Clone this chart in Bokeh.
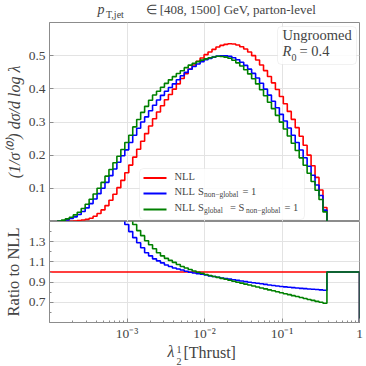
import numpy as np
from bokeh.plotting import figure
from bokeh.layouts import column
from bokeh.models import FixedTicker, Label, BoxAnnotation, Range1d
from bokeh.embed import file_html
from bokeh.resources import INLINE

# ---------------- data ----------------
lam_min, lam_max, lam_end = 1e-4, 0.38, 1.0
n_bins = 70

# NLL distribution (1/sigma0) dsigma/dlog(lambda), per log bin
nll = [0.0, 0.0, 0.0001, 0.0002, 0.0004, 0.0008, 0.0015, 0.0027, 0.0043, 0.0065,
       0.010, 0.016, 0.024, 0.035, 0.048, 0.064, 0.082, 0.102, 0.124, 0.147,
       0.170, 0.194, 0.218, 0.242, 0.265, 0.288, 0.310, 0.330, 0.349, 0.367,
       0.383, 0.399, 0.415, 0.431, 0.446, 0.460, 0.472, 0.483, 0.493, 0.503,
       0.511, 0.519, 0.526, 0.531, 0.534, 0.536, 0.535, 0.532, 0.527, 0.520,
       0.511, 0.500, 0.487, 0.472, 0.455, 0.437, 0.418, 0.398, 0.377, 0.355,
       0.332, 0.308, 0.283, 0.257, 0.230, 0.200, 0.168, 0.133, 0.095, 0.042]

# ratio to NLL: S_non-global = 1
ratio_nonglobal = [10.0, 10.0, 5.0, 10.0, 12.5, 11.25, 9.33, 7.78, 6.98, 6.31,
                   5.4, 4.25, 3.5, 2.86, 2.46, 2.16, 1.93, 1.75, 1.6, 1.47,
                   1.40, 1.34, 1.29, 1.24, 1.19, 1.16, 1.13, 1.11, 1.09, 1.07,
                   1.055, 1.04, 1.03, 1.02, 1.008, 0.998, 0.99, 0.983, 0.977, 0.97,
                   0.962, 0.955, 0.948, 0.941, 0.935, 0.929, 0.923, 0.917, 0.911, 0.905,
                   0.899, 0.893, 0.888, 0.883, 0.877, 0.872, 0.867, 0.862, 0.857, 0.853,
                   0.849, 0.845, 0.841, 0.838, 0.835, 0.832, 0.829, 0.826, 0.823, 0.82]

# ratio to NLL: S_global = S_non-global = 1
ratio_global = [10.0, 10.0, 10.0, 20.0, 20.0, 16.3, 13.3, 10.4, 9.07, 8.0,
                6.7, 5.19, 4.17, 3.37, 2.85, 2.45, 2.16, 1.93, 1.75, 1.62,
                1.53, 1.47, 1.41, 1.36, 1.31, 1.27, 1.23, 1.19, 1.16, 1.135,
                1.115, 1.095, 1.075, 1.055, 1.04, 1.025, 1.01, 0.998, 0.987, 0.975,
                0.966, 0.956, 0.947, 0.937, 0.928, 0.918, 0.909, 0.899, 0.89, 0.88,
                0.871, 0.861, 0.852, 0.842, 0.833, 0.823, 0.814, 0.804, 0.795, 0.785,
                0.776, 0.766, 0.757, 0.747, 0.738, 0.728, 0.719, 0.709, 0.70, 0.69]

x_major = [1e-3, 1e-2, 1e-1, 1.0]
x_labels = ["10\u207b\u00b3", "10\u207b\u00b2", "10\u207b\u00b9", "1"]
top_yticks = [0.1, 0.2, 0.3, 0.4, 0.5]
ratio_yticks = [0.7, 0.9, 1.1, 1.3]
ratio_yminor = [0.6, 0.8, 1.0, 1.2, 1.4]

# ---------------- helpers ----------------
edges = np.geomspace(lam_min, lam_max, n_bins + 1)
edges_r = np.append(edges, lam_end)

nll_a = np.array(nll)
nonglobal_a = nll_a * np.array(ratio_nonglobal)
global_a = nll_a * np.array(ratio_global)


def step_path(e, v, close_left=True, close_right=True):
    xs, ys = [], []
    if close_left:
        xs.append(e[0]); ys.append(0.0)
    for i, val in enumerate(v):
        xs += [e[i], e[i + 1]]
        ys += [val, val]
    if close_right:
        xs.append(e[-1]); ys.append(0.0)
    return xs, ys


def trimmed(e, v):
    nz = np.nonzero(np.array(v) > 0)[0][0]
    return e[nz:], list(v[nz:])

FONT = "Liberation Serif"
RED, BLUE, GREEN = "#ff0000", "#0000ff", "#008000"
SPINE = "#8c8c8c"
GRID = "#e3e3e3"
LW = 1.6

W = 366
LEFT, FRAME_W, RIGHT = 48, 310, 8
TITLE_H, TOP_H, BOT_H, BOT_AX = 22, 199, 101, 18
XLAB_Y0 = TITLE_H + TOP_H + BOT_H + BOT_AX
XLAB_H = W - XLAB_Y0


# pixel -> data helpers for annotations inside the top frame
def fx(px):
    return 10 ** (np.log10(lam_min) + 4.0 * (px - LEFT) / FRAME_W)


def fy(py):
    return 0.6 * (TITLE_H + TOP_H - py) / TOP_H


def strip(y0, height):
    # frame aligned with the panels: data units == page pixels
    s = figure(frame_width=FRAME_W, frame_height=height,
               x_range=Range1d(LEFT, LEFT + FRAME_W), y_range=Range1d(y0 + height, y0),
               x_axis_location=None, y_axis_location=None,
               min_border_left=LEFT, min_border_right=RIGHT, min_border_top=0, min_border_bottom=0,
               output_backend="svg", toolbar_location=None)
    s.outline_line_color = None
    s.grid.visible = False
    return s

# ---------------- title strip ----------------
title = strip(0, TITLE_H)
title.add_layout(Label(x=96, y=16, text="p", text_font=FONT, text_font_style="italic",
                       text_font_size="14px"))
title.add_layout(Label(x=104.5, y=19, text="T,jet", text_font=FONT, text_font_size="10px"))
title.add_layout(Label(x=144, y=16, text="\u2208 [408, 1500] GeV, parton-level",
                       text_font=FONT, text_font_size="13px"))

# ---------------- top panel ----------------
top = figure(x_axis_type="log", x_range=Range1d(lam_min, 1.0), y_range=Range1d(0, 0.6),
             frame_width=FRAME_W, frame_height=TOP_H, x_axis_location=None,
             min_border_left=LEFT, min_border_right=RIGHT, min_border_top=0, min_border_bottom=0,
             output_backend="svg", toolbar_location=None)
top.outline_line_color = SPINE
top.xgrid.ticker = FixedTicker(ticks=x_major[:3])
top.xgrid.grid_line_color = GRID
top.ygrid.grid_line_color = GRID
ya = top.yaxis[0]
ya.ticker = FixedTicker(ticks=top_yticks)
ya.axis_label = "(1/\u03c3\u207d\u2070\u207e) d\u03c3/d log \u03bb"
ya.axis_label_text_font = FONT
ya.axis_label_text_font_style = "italic"
ya.axis_label_text_font_size = "16px"
ya.axis_label_standoff = 3
ya.major_label_text_font = FONT
ya.major_label_text_font_size = "13.5px"
ya.major_label_standoff = 4
ya.major_tick_in = 4
ya.major_tick_out = 0
ya.minor_tick_in = 0
ya.minor_tick_out = 0
ya.axis_line_color = SPINE
ya.major_tick_line_color = SPINE

for vals, col in [(nll_a, RED), (nonglobal_a, BLUE), (global_a, GREEN)]:
    e_t, v_t = trimmed(edges, vals)
    xs, ys = step_path(e_t, v_t)
    top.line(xs, ys, line_color=col, line_width=LW)

# Ungroomed box
top.add_layout(BoxAnnotation(left=fx(276), right=fx(355), top=fy(26), bottom=fy(64),
                             fill_color="white", fill_alpha=0.85, line_color="#cfcfcf",
                             line_width=1, border_radius=4))
top.add_layout(Label(x=fx(281), y=fy(42), text="Ungroomed", text_font=FONT,
                     text_font_size="14.5px"))
top.add_layout(Label(x=fx(281), y=fy(58), text="R", text_font=FONT, text_font_style="italic",
                     text_font_size="14.5px"))
top.add_layout(Label(x=fx(290), y=fy(60.5), text="0", text_font=FONT, text_font_size="10px"))
top.add_layout(Label(x=fx(298), y=fy(58), text="= 0.4", text_font=FONT,
                     text_font_size="14.5px"))

# legend
top.add_layout(BoxAnnotation(left=fx(138), right=fx(303), top=fy(168), bottom=fy(219),
                             fill_color="white", fill_alpha=0.85, line_color="#cfcfcf",
                             line_width=1, border_radius=4))
rows = [177.5, 193.0, 209.0]
for row, col in zip(rows, [RED, BLUE, GREEN]):
    top.add_layout(BoxAnnotation(left=fx(142), right=fx(165), top=fy(row - 1), bottom=fy(row + 1),
                                 fill_color=col, fill_alpha=1.0, line_alpha=0))


def leg(px, row, text, size="10.5px", dy=3.5):
    top.add_layout(Label(x=fx(px), y=fy(row + dy), text=text, text_font=FONT,
                         text_font_size=size))


leg(173, rows[0], "NLL")
leg(173, rows[1], "NLL")
leg(196.5, rows[1], "S")
leg(202.5, rows[1], "non\u2212global", size="7.5px", dy=5.5)
leg(241, rows[1], "= 1")
leg(173, rows[2], "NLL")
leg(196.5, rows[2], "S")
leg(202.5, rows[2], "global", size="7.5px", dy=5.5)
leg(228.5, rows[2], "= S")
leg(244.5, rows[2], "non\u2212global", size="7.5px", dy=5.5)
leg(283, rows[2], "= 1")

# ---------------- ratio panel ----------------
bot = figure(x_axis_type="log", x_range=top.x_range, y_range=Range1d(0.5, 1.5),
             frame_width=FRAME_W, frame_height=BOT_H,
             min_border_left=LEFT, min_border_right=RIGHT, min_border_top=0,
             min_border_bottom=BOT_AX,
             output_backend="svg", toolbar_location=None)
bot.outline_line_color = SPINE
bot.xgrid.grid_line_color = GRID
bot.ygrid.grid_line_color = GRID
xa = bot.xaxis[0]
xa.ticker = FixedTicker(ticks=x_major,
                        minor_ticks=[m * 10.0 ** k for k in range(-4, 0) for m in range(2, 10)])
xa.major_label_overrides = {t: s for t, s in zip(x_major, x_labels)}
xa.major_label_text_font = FONT
xa.major_label_text_font_size = "13.5px"
xa.major_label_standoff = 3
xa.major_tick_in = 4
xa.major_tick_out = 0
xa.minor_tick_in = 2
xa.minor_tick_out = 0
xa.axis_line_color = SPINE
xa.major_tick_line_color = SPINE
xa.minor_tick_line_color = SPINE
bot.xgrid.ticker = FixedTicker(ticks=x_major[:3])

yb = bot.yaxis[0]
yb.ticker = FixedTicker(ticks=ratio_yticks, minor_ticks=ratio_yminor)
yb.axis_label = "Ratio to NLL"
yb.axis_label_text_font = FONT
yb.axis_label_text_font_style = "normal"
yb.axis_label_text_font_size = "16.5px"
yb.axis_label_standoff = 3
yb.major_label_text_font = FONT
yb.major_label_text_font_size = "13.5px"
yb.major_label_standoff = 4
yb.major_tick_in = 4
yb.major_tick_out = 0
yb.minor_tick_in = 2
yb.minor_tick_out = 0
yb.axis_line_color = SPINE
yb.major_tick_line_color = SPINE
yb.minor_tick_line_color = SPINE

ratio_red = np.ones(n_bins)
for vals, col in [(ratio_red, RED), (np.array(ratio_nonglobal), BLUE), (np.array(ratio_global), GREEN)]:
    v = list(vals) + [1.0]
    xs, ys = step_path(edges_r, v, close_left=False, close_right=True)
    bot.line(xs, ys, line_color=col, line_width=LW)

# ---------------- x label strip ----------------
xlab = strip(XLAB_Y0, XLAB_H)
xlab.add_layout(Label(x=166, y=356, text="\u03bb", text_font=FONT,
                      text_font_style="italic", text_font_size="16px"))
xlab.add_layout(Label(x=175, y=349.5, text="1", text_font=FONT, text_font_size="10px"))
xlab.add_layout(Label(x=175, y=361, text="2", text_font=FONT, text_font_size="10px"))
xlab.add_layout(Label(x=182, y=357.5, text="[Thrust]", text_font=FONT,
                      text_font_size="16px"))

layout = column(title, top, bot, xlab)
open("out.html", "w").write(file_html(layout, INLINE))
